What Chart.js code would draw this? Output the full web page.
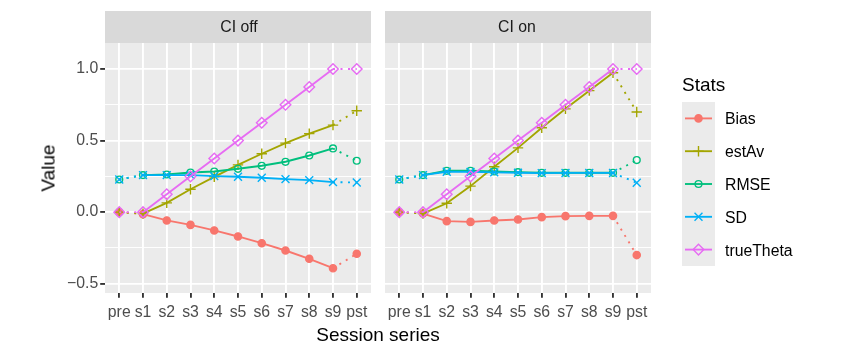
<!DOCTYPE html>
<html><head><meta charset="utf-8">
<script src="https://cdn.jsdelivr.net/npm/chart.js@4/dist/chart.umd.min.js"></script>
<style>
html,body{margin:0;padding:0;background:#fff;}
#wrap{position:relative;width:850px;height:355px;overflow:hidden;font-family:"Liberation Sans",Arial,sans-serif;}
canvas{position:absolute;top:0;}
.t{position:absolute;white-space:nowrap;line-height:1;}
</style></head><body>
<div id="wrap">
<canvas id="c1" width="378" height="355" style="left:0;width:378px;height:355px"></canvas>
<canvas id="c2" width="472" height="355" style="left:378px;width:472px;height:355px"></canvas>
<div class="t" style="left:239px;top:27px;transform:translate(-50%,-50%);font-size:15.8px;color:#1A1A1A">CI off</div>
<div class="t" style="left:517px;top:27px;transform:translate(-50%,-50%);font-size:15.8px;color:#1A1A1A">CI on</div>
<div class="t" style="left:48px;top:168px;transform:translate(-50%,-50%) rotate(-90deg);font-size:19px;color:#000">Value</div>
<div class="t" style="left:378px;top:334px;transform:translate(-50%,-50%);font-size:19px;color:#000">Session series</div>
<div id="legend"></div>
</div>
<script>
// ---- data ----
const sessions = ['pre','s1','s2','s3','s4','s5','s6','s7','s8','s9','pst'];
const panels = ['CI off','CI on'];
const statNames = ['Bias','estAv','RMSE','SD','trueTheta'];
const yMajorTicks = [-0.5, 0, 0.5, 1.0];
const yMinorTicks = [-0.25, 0.25, 0.75];

const offBias      = [0, -0.014, -0.058, -0.089, -0.128, -0.170, -0.217, -0.268, -0.326, -0.392, -0.291];
const offEstAv     = [0, -0.010, 0.065, 0.160, 0.247, 0.330, 0.408, 0.482, 0.549, 0.608, 0.709];
const offRMSE      = [0.228, 0.259, 0.263, 0.277, 0.284, 0.303, 0.324, 0.352, 0.396, 0.445, 0.359];
const offSD        = [0.228, 0.259, 0.259, 0.259, 0.252, 0.247, 0.240, 0.231, 0.224, 0.210, 0.207];
const offTrueTheta = [0, 0, 0.125, 0.25, 0.375, 0.5, 0.625, 0.75, 0.875, 1.0, 1.0];

const onBias       = [0, -0.010, -0.063, -0.068, -0.058, -0.051, -0.035, -0.028, -0.026, -0.026, -0.300];
const onEstAv      = [0, -0.010, 0.062, 0.182, 0.317, 0.449, 0.590, 0.722, 0.849, 0.974, 0.700];
const onRMSE       = [0.228, 0.259, 0.289, 0.289, 0.284, 0.280, 0.275, 0.275, 0.275, 0.275, 0.364];
const onSD         = [0.228, 0.259, 0.282, 0.281, 0.278, 0.275, 0.273, 0.274, 0.274, 0.274, 0.205];
const onTrueTheta  = [0, 0, 0.125, 0.25, 0.375, 0.5, 0.625, 0.75, 0.875, 1.0, 1.0];

const panelData = [
  [offBias, offEstAv, offRMSE, offSD, offTrueTheta],
  [onBias, onEstAv, onRMSE, onSD, onTrueTheta]
];

// ---- styles ----
const FONT = '"Liberation Sans", Arial, sans-serif';
const seriesStyle = {
  Bias:      {color:'#F8766D', point:'circle',   r:3.6, fill:true},
  estAv:     {color:'#A3A500', point:'cross',    r:5.2, fill:false},
  RMSE:      {color:'#00BF7D', point:'circle',   r:3.4, fill:false},
  SD:        {color:'#00B0F6', point:'crossRot', r:5.6, fill:false},
  trueTheta: {color:'#E76BF3', point:'rectRot',  r:5.3, fill:false}
};
const LW = 1.87;
const Y_MIN = -0.565, Y_MAX = 1.182;

Chart.defaults.font.family = FONT;

const isMajor = v => yMajorTicks.some(m => Math.abs(m - v) < 1e-9);
const fmt = v => v < 0 ? '\u2212' + Math.abs(v).toFixed(1) : v.toFixed(1);

const panelBg = {
  id: 'panelBg',
  beforeDraw(chart) {
    const {ctx, chartArea: a} = chart;
    ctx.save();
    ctx.fillStyle = '#EBEBEB';
    ctx.fillRect(a.left, a.top, a.right - a.left, a.bottom - a.top);
    ctx.fillStyle = '#D9D9D9';
    ctx.fillRect(a.left, 11, a.right - a.left, a.top - 11);
    ctx.restore();
  }
};

function drawShape(ctx, s, x, y) {
  ctx.save();
  ctx.strokeStyle = s.color; ctx.fillStyle = s.color; ctx.lineWidth = 1.4;
  const r = s.r;
  ctx.beginPath();
  if (s.point === 'circle') {
    ctx.arc(x, y, r, 0, Math.PI * 2);
    if (s.fill) ctx.fill();
    ctx.stroke();
  } else if (s.point === 'cross') {
    ctx.moveTo(x - r, y); ctx.lineTo(x + r, y);
    ctx.moveTo(x, y - r); ctx.lineTo(x, y + r);
    ctx.stroke();
  } else if (s.point === 'crossRot') {
    const d = r * Math.SQRT1_2;
    ctx.moveTo(x - d, y - d); ctx.lineTo(x + d, y + d);
    ctx.moveTo(x - d, y + d); ctx.lineTo(x + d, y - d);
    ctx.stroke();
  } else if (s.point === 'rectRot') {
    ctx.moveTo(x, y - r); ctx.lineTo(x + r, y); ctx.lineTo(x, y + r); ctx.lineTo(x - r, y); ctx.closePath();
    ctx.stroke();
  }
  ctx.restore();
}

const legendKeys = {
  id: 'legendKeys',
  afterDraw(chart) {
    const ctx = chart.ctx;
    const ox = 378;
    const boxL = 682 - ox, boxW = 33, boxT = 102, keyH = 32.8;
    ctx.save();
    ctx.fillStyle = '#EBEBEB';
    ctx.fillRect(boxL, boxT, boxW, keyH * statNames.length);
    statNames.forEach((n, i) => {
      const s = seriesStyle[n];
      const cy = boxT + keyH * (i + 0.5);
      ctx.strokeStyle = s.color; ctx.lineWidth = LW;
      ctx.beginPath(); ctx.moveTo(685 - ox, cy); ctx.lineTo(712 - ox, cy); ctx.stroke();
      drawShape(ctx, s, 698.5 - ox, cy);
    });
    ctx.restore();
  }
};

// legend text (HTML)
(function(){
  const lg = document.getElementById('legend');
  let html = '<div class="t" style="left:682px;top:84px;transform:translateY(-50%);font-size:19px;color:#000">Stats</div>';
  statNames.forEach((n, i) => {
    const cy = 102 + 32.8 * (i + 0.5) + 1;
    html += '<div class="t" style="left:725px;top:' + cy + 'px;transform:translateY(-50%);font-size:15.8px;color:#000">' + n + '</div>';
  });
  lg.innerHTML = html;
})();

function makeChart(canvasId, pIndex, showY, padding, extraPlugins) {
  const datasets = statNames.map((n, k) => {
    const s = seriesStyle[n];
    return {
      label: n,
      data: panelData[pIndex][k].map((v, i) => ({x: i, y: v})),
      borderColor: s.color,
      backgroundColor: s.color,
      borderWidth: LW,
      pointStyle: s.point,
      pointRadius: s.r,
      pointBorderWidth: 1.4,
      pointBorderColor: s.color,
      pointBackgroundColor: s.fill ? s.color : 'rgba(0,0,0,0)',
      tension: 0,
      order: statNames.length - k,
      clip: false,
      segment: {
        borderDash: c => (c.p0DataIndex === 0 || c.p1DataIndex === sessions.length - 1) ? [2, 5.5] : undefined
      },
      borderDash: []
    };
  });
  return new Chart(document.getElementById(canvasId), {
    type: 'line',
    data: {datasets},
    options: {
      responsive: false,
      animation: false,
      events: [],
      devicePixelRatio: 1,
      layout: {padding},
      plugins: {legend: {display: false}, tooltip: {enabled: false}},
      scales: {
        x: {
          type: 'linear', min: -0.6, max: 10.6, offset: false,
          afterBuildTicks: sc => { sc.ticks = sessions.map((_, i) => ({value: i})); },
          afterFit: sc => { sc.height = 30; },
          ticks: {
            autoSkip: false, maxRotation: 0, minRotation: 0,
            callback: v => sessions[Math.round(v)],
            color: '#4D4D4D', font: {size: 15.8, family: FONT}, padding: 5
          },
          grid: {color: '#FFFFFF', lineWidth: LW, tickColor: '#333333', tickLength: 4.8, tickWidth: LW, drawTicks: true},
          border: {display: false}
        },
        y: {
          type: 'linear', min: Y_MIN, max: Y_MAX,
          afterBuildTicks: sc => { sc.ticks = yMajorTicks.concat(yMinorTicks).sort((a,b)=>a-b).map(v => ({value: v})); },
          afterFit: sc => { sc.width = showY ? 105 : 0; },
          ticks: {
            display: showY, autoSkip: false,
            callback: v => isMajor(v) ? fmt(v) : '',
            color: '#4D4D4D', font: {size: 15.8, family: FONT}, padding: 2
          },
          grid: {
            color: '#FFFFFF',
            lineWidth: c => (c.tick && isMajor(c.tick.value)) ? LW : 0.93,
            tickColor: c => (c.tick && isMajor(c.tick.value)) ? '#333333' : 'rgba(0,0,0,0)',
            tickLength: 4.8, tickWidth: LW, drawTicks: showY
          },
          border: {display: false}
        }
      }
    },
    plugins: [panelBg].concat(extraPlugins || [])
  });
}

makeChart('c1', 0, true, {left: 0, right: 5, top: 43, bottom: 32});
makeChart('c2', 1, false, {left: 5, right: 199, top: 43, bottom: 32}, [legendKeys]);
</script>
</body></html>
